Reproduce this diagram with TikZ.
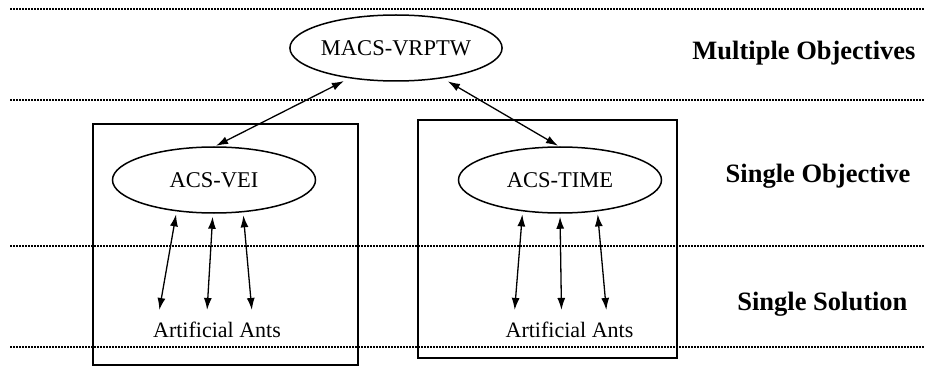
\documentclass[tikz,border=0pt]{standalone}
\usepackage{fontspec}
\setmainfont{Liberation Serif}
\usetikzlibrary{shapes.geometric,arrows.meta,positioning}

\begin{document}
\begin{tikzpicture}[
    x=1pt, y=-1pt,
    algo/.style={ellipse, draw, line width=1.5pt, minimum width=203pt, minimum height=66pt, inner sep=0pt, font=\fontsize{22.5}{26}\selectfont},
    colony/.style={rectangle, draw, line width=1.3pt},
    ants/.style={inner xsep=0pt, inner ysep=10pt, font=\fontsize{22}{26}\selectfont},
    level/.style={anchor=east, font=\fontsize{26.5}{30}\selectfont\bfseries},
    sep/.style={line width=1.1pt, dash pattern=on 2pt off 1pt},
    arrow/.style={<->, >={Latex[length=12pt,width=8pt]}, line width=1.3pt}
]
\useasboundingbox (0,0) rectangle (925,366);

% Level separators
\draw[sep] (10,9) -- (925,9);
\draw[sep] (10,100) -- (925,100);
\draw[sep] (10,246) -- (925,246);
\draw[sep] (10,347) -- (925,347);

% Colony frames
\node[colony, minimum width=265pt, minimum height=241pt] (leftbox) at (225.5,244.5) {};
\node[colony, minimum width=259pt, minimum height=238pt] (rightbox) at (547.5,239) {};

% Nodes
\node[algo] (macs) at (396,48) {MACS-VRPTW};
\node[algo] (vei) at (214,180) {ACS-VEI};
\node[algo] (time) at (560,180) {ACS-TIME};
\node[ants] (antsvei) at (217,330) {Artificial Ants};
\node[ants] (antstime) at (569.5,330) {Artificial Ants};

% Level labels
\node[level] (multi) at (919,53) {Multiple Objectives};
\node[level] (single) at (914,176) {Single Objective};
\node[level] (solution) at (911,304) {Single Solution};

% Arrows
\draw[arrow, shorten <=6pt, shorten >=1pt] (macs.213) -- (vei.88);
\draw[arrow, shorten <=6pt, shorten >=1pt] (macs.327) -- (time.92);
\draw[arrow, shorten <=3pt, shorten >=2pt] (vei.220) -- ([xshift=-58pt]antsvei.north);
\draw[arrow, shorten <=3pt, shorten >=2pt] (vei.268) -- ([xshift=-10pt]antsvei.north);
\draw[arrow, shorten <=3pt, shorten >=2pt] (vei.312) -- ([xshift=35pt]antsvei.north);
\draw[arrow, shorten <=3pt, shorten >=2pt] (time.220) -- ([xshift=-55pt]antstime.north);
\draw[arrow, shorten <=3pt, shorten >=2pt] (time.270) -- ([xshift=-8pt]antstime.north);
\draw[arrow, shorten <=3pt, shorten >=2pt] (time.320) -- ([xshift=37pt]antstime.north);

\end{tikzpicture}
\end{document}
